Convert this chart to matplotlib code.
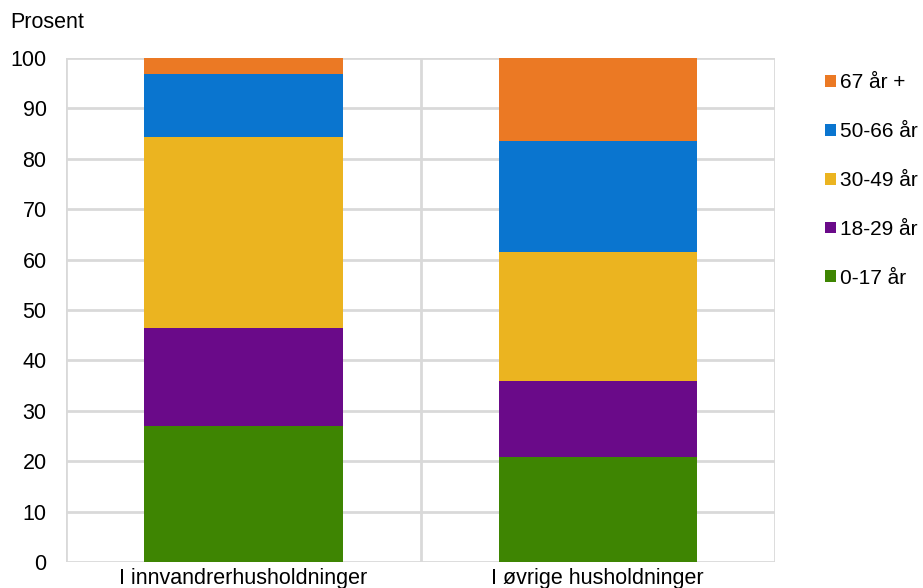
import matplotlib
matplotlib.use("Agg")
import matplotlib.pyplot as plt
import numpy as np

plt.rcParams['font.family'] = ['Liberation Sans', 'DejaVu Sans']

categories = ["I innvandrerhusholdninger", "I øvrige husholdninger"]
series_names = ["0-17 år", "18-29 år", "30-49 år", "50-66 år", "67 år +"]
values_0_17 = [27.0, 20.8]
values_18_29 = [19.4, 15.1]
values_30_49 = [37.9, 25.7]
values_50_66 = [12.5, 22.0]
values_67 = [3.2, 16.4]
colors = ["#3E8502", "#6A0A89", "#EBB420", "#0A75CF", "#EB7924"]
yticks = [0, 10, 20, 30, 40, 50, 60, 70, 80, 90, 100]

series = [values_0_17, values_18_29, values_30_49, values_50_66, values_67]

FS = 15.5
LFS = 15.0
fig = plt.figure(figsize=(9.23, 5.88), dpi=100)
ax = fig.add_axes([0.0715, 0.0442, 0.7682, 0.8572])

x = np.arange(len(categories))
bottom = np.zeros(len(categories))
handles = []
for name, vals, c in zip(series_names, series, colors):
    h = ax.bar(x, vals, width=0.56, bottom=bottom, color=c, label=name, zorder=3)
    handles.append(h)
    bottom += np.array(vals)

ax.set_xlim(-0.5, 1.5)
ax.set_ylim(0, 100)
ax.set_yticks(yticks)
ax.set_xticks(x)
ax.set_xticklabels(categories, fontsize=FS)
ax.tick_params(axis='y', labelsize=FS, length=0, pad=14)
ax.tick_params(axis='x', length=0, pad=4)
for s in ax.spines.values():
    s.set_visible(False)
for yv in yticks:
    ax.axhline(yv, color="#D9D9D9", lw=2, zorder=1)
for xv in [-0.5, 0.5, 1.5]:
    ax.axvline(xv, color="#D9D9D9", lw=2, zorder=1)

fig.text(0.011, 0.962, "Prosent", fontsize=FS, va="center", ha="left")

leg = fig.legend(handles[::-1], series_names[::-1], loc="upper left",
                 bbox_to_anchor=(0.894, 0.875), frameon=False, fontsize=LFS,
                 handlelength=0.5, handleheight=0.5, handletextpad=0.2,
                 labelspacing=1.43, borderaxespad=0, borderpad=0)

fig.savefig("out.png", dpi=100)
